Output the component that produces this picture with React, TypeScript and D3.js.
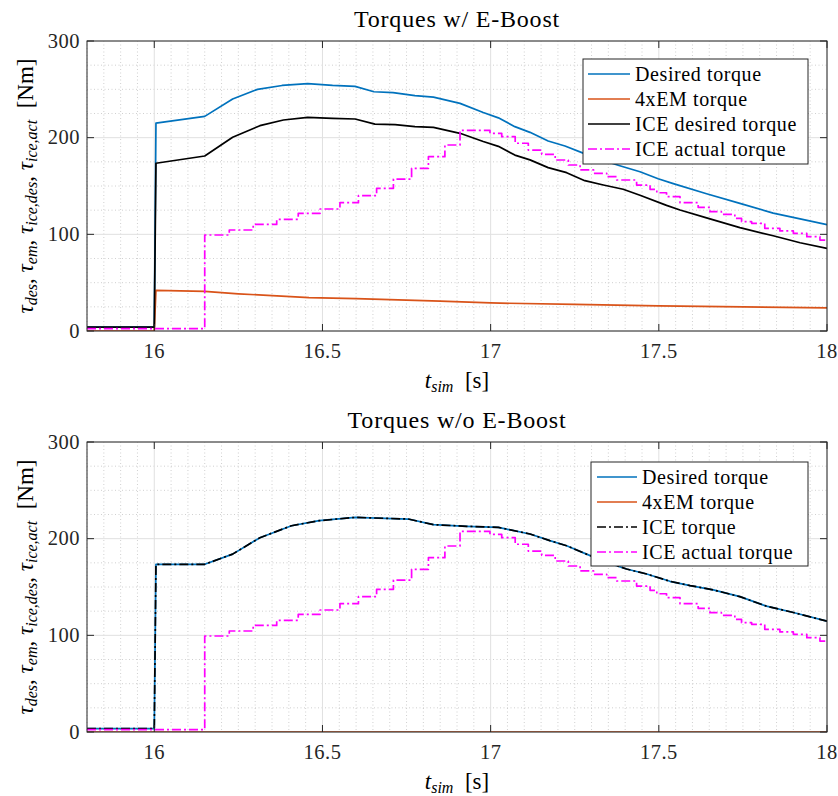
import React from "react";
import * as d3 from "d3";

// ---------- data ----------
const X_TICKS = [16, 16.5, 17, 17.5, 18];
const Y_TICKS = [0, 100, 200, 300];
const X_TICK_LABELS = ["16", "16.5", "17", "17.5", "18"];
const Y_TICK_LABELS = ["0", "100", "200", "300"];

// Top panel (w/ E-Boost)
const topDesired: [number, number][] = [
  [15.8, 4], [16.0, 4], [16.005, 215], [16.15, 222], [16.233, 240], [16.307, 250], [16.38, 254],
  [16.456, 256], [16.53, 254], [16.597, 253], [16.653, 247.5], [16.71, 246.5], [16.775, 243.5],
  [16.83, 242], [16.909, 235.5], [16.978, 226], [17.023, 220.5], [17.072, 211.4], [17.117, 205.5],
  [17.171, 196.5], [17.221, 191.4], [17.275, 184], [17.33, 177], [17.384, 171], [17.444, 164.8],
  [17.498, 157.5], [17.543, 152.5], [17.642, 142], [17.741, 132], [17.84, 122], [17.92, 116], [18.0, 110],
];
const topEM: [number, number][] = [
  [15.8, 0], [16.0, 0], [16.005, 42], [16.15, 41], [16.25, 38.5], [16.46, 34.5], [16.6, 33.5],
  [16.85, 31], [17.0, 29], [17.25, 27.5], [17.5, 26], [17.75, 25], [18.0, 24],
];
const topIceDesired: [number, number][] = [
  [15.8, 4], [16.0, 4], [16.005, 173.5], [16.15, 181], [16.233, 200.4], [16.314, 212.4], [16.384, 218.3],
  [16.456, 221], [16.53, 220], [16.597, 219.3], [16.656, 214], [16.716, 213.5], [16.775, 211.5],
  [16.83, 210.7], [16.909, 204.5], [16.978, 196], [17.023, 191], [17.072, 182], [17.117, 177],
  [17.171, 169], [17.226, 163.8], [17.28, 155.5], [17.335, 151], [17.394, 146.6], [17.444, 140.5],
  [17.523, 130], [17.563, 125.2], [17.642, 117], [17.741, 107], [17.84, 98.5], [17.92, 91.3], [18.0, 85.5],
];
const iceActual: [number, number][] = [
  [15.8, 2.5], [16.15, 99.3], [16.223, 104.5], [16.294, 110.3], [16.364, 115.5], [16.428, 121.7],
  [16.493, 126.2], [16.552, 132.7], [16.607, 140], [16.661, 147.6], [16.711, 157.2], [16.765, 168.3],
  [16.815, 180.3], [16.864, 192.4], [16.909, 207.5], [16.998, 204.5], [17.033, 201], [17.073, 194.2],
  [17.112, 187.2], [17.152, 182.8], [17.192, 176.9], [17.231, 171.7], [17.266, 166.6], [17.306, 163.1],
  [17.345, 159.6], [17.375, 156.2], [17.434, 151], [17.474, 146.6], [17.494, 143], [17.523, 139],
  [17.563, 132.8], [17.617, 127.9], [17.652, 123.4], [17.686, 120.7], [17.726, 116.6], [17.746, 113.1],
  [17.776, 111.4], [17.815, 106.2], [17.86, 103.5], [17.9, 101], [17.94, 97.6], [17.979, 94.1], [18.0, 93.1],
];

// Bottom panel (w/o E-Boost)
const botDesired: [number, number][] = [
  [15.8, 3.5], [16.0, 3.5], [16.005, 173.5], [16.15, 173.5], [16.233, 184], [16.314, 201], [16.408, 213.4],
  [16.49, 218.6], [16.597, 222], [16.755, 220.3], [16.83, 214.5], [16.929, 212.8], [17.023, 211.7],
  [17.117, 204.8], [17.176, 198], [17.226, 192.7], [17.285, 184], [17.35, 175], [17.404, 168.6],
  [17.464, 163.4], [17.533, 155.9], [17.593, 151.5], [17.662, 147], [17.741, 140], [17.82, 130.2],
  [17.9, 123.6], [18.0, 114.6],
];
const botEM: [number, number][] = [[15.8, 0], [16.0, 0], [18.0, 0]];
const botIce: [number, number][] = botDesired;
const botIceActual: [number, number][] = iceActual;

const COLORS = { blue: "#0072BD", orange: "#D95319", black: "#000000", magenta: "#FF00FF" };
const DASHDOT = "9,3,2,3";
const FONT = "'Liberation Serif', 'Times New Roman', serif";

// ---------- layout ----------
const W = 838, H = 796;
const PL = 87, PR = 827, PH = 290;

type Series = { name: string; data: [number, number][]; color: string; dash?: string; step?: boolean };

const panels = [
  {
    top: 41,
    title: "Torques w/ E-Boost",
    series: [
      { name: "Desired torque", data: topDesired, color: COLORS.blue },
      { name: "4xEM torque", data: topEM, color: COLORS.orange },
      { name: "ICE desired torque", data: topIceDesired, color: COLORS.black },
      { name: "ICE actual torque", data: iceActual, color: COLORS.magenta, dash: DASHDOT, step: true },
    ] as Series[],
    legend: { x: 583, y: 59, w: 225, h: 105, lineX0: 588, lineX1: 630, textX: 635 },
  },
  {
    top: 442,
    title: "Torques w/o E-Boost",
    series: [
      { name: "Desired torque", data: botDesired, color: COLORS.blue },
      { name: "4xEM torque", data: botEM, color: COLORS.orange },
      { name: "ICE torque", data: botIce, color: COLORS.black, dash: DASHDOT },
      { name: "ICE actual torque", data: botIceActual, color: COLORS.magenta, dash: DASHDOT, step: true },
    ] as Series[],
    legend: { x: 591, y: 462, w: 217, h: 104, lineX0: 597, lineX1: 637, textX: 642 },
  },
];

const minorX: number[] = d3.range(0, 45).map((i) => 15.8 + i * 0.05).filter((v) => !X_TICKS.some((t) => Math.abs(t - v) < 1e-6));
const minorY: number[] = [25, 50, 75, 125, 150, 175, 225, 250, 275];

function Panel({ p, idx }: { p: (typeof panels)[number]; idx: number }) {
  const x = d3.scaleLinear().domain([15.8, 18]).range([PL, PR]);
  const y = d3.scaleLinear().domain([0, 300]).range([p.top + PH, p.top]);
  const lineGen = d3.line<[number, number]>().x((d) => x(d[0])).y((d) => y(d[1]));
  const stepGen = d3.line<[number, number]>().x((d) => x(d[0])).y((d) => y(d[1])).curve(d3.curveStepAfter);
  const bottom = p.top + PH;
  const clipId = `clip${idx}`;
  const tickLen = 7;
  return (
    <g>
      <defs>
        <clipPath id={clipId}>
          <rect x={PL} y={p.top} width={PR - PL} height={PH} />
        </clipPath>
      </defs>
      <rect x={PL} y={p.top} width={PR - PL} height={PH} fill="#fff" />
      {/* minor grid */}
      {minorX.map((v, i) => (
        <line key={"mx" + i} x1={x(v)} x2={x(v)} y1={p.top} y2={bottom} stroke="#c4c4c4" strokeWidth={0.8} strokeDasharray="1,2.5" />
      ))}
      {minorY.map((v, i) => (
        <line key={"my" + i} x1={PL} x2={PR} y1={y(v)} y2={y(v)} stroke="#c4c4c4" strokeWidth={0.8} strokeDasharray="1,2.5" />
      ))}
      {/* major grid */}
      {X_TICKS.map((v, i) => (
        <line key={"gx" + i} x1={x(v)} x2={x(v)} y1={p.top} y2={bottom} stroke="#e0e0e0" strokeWidth={1} />
      ))}
      {Y_TICKS.map((v, i) => (
        <line key={"gy" + i} x1={PL} x2={PR} y1={y(v)} y2={y(v)} stroke="#e0e0e0" strokeWidth={1} />
      ))}
      {/* series */}
      <g clipPath={`url(#${clipId})`}>
        {p.series.map((s, i) => (
          <path
            key={"s" + i}
            d={(s.step ? stepGen : lineGen)(s.data) || ""}
            fill="none"
            stroke={s.color}
            strokeWidth={1.7}
            strokeDasharray={s.dash}
            strokeLinejoin="round"
          />
        ))}
      </g>
      {/* frame */}
      <rect x={PL} y={p.top} width={PR - PL} height={PH} fill="none" stroke="#262626" strokeWidth={1} />
      {/* ticks */}
      {X_TICKS.map((v, i) => (
        <g key={"tx" + i}>
          <line x1={x(v)} x2={x(v)} y1={bottom} y2={bottom - tickLen} stroke="#262626" />
          <line x1={x(v)} x2={x(v)} y1={p.top} y2={p.top + tickLen} stroke="#262626" />
          <text x={x(v)} y={bottom + 27} textAnchor="middle" fontFamily={FONT} fontSize={20.5} letterSpacing={0.5} fill="#262626">
            {X_TICK_LABELS[i]}
          </text>
        </g>
      ))}
      {Y_TICKS.map((v, i) => (
        <g key={"ty" + i}>
          <line x1={PL} x2={PL + tickLen} y1={y(v)} y2={y(v)} stroke="#262626" />
          <line x1={PR} x2={PR - tickLen} y1={y(v)} y2={y(v)} stroke="#262626" />
          <text x={80} y={y(v) + 6.8} textAnchor="end" fontFamily={FONT} fontSize={20.5} letterSpacing={0.5} fill="#262626">
            {Y_TICK_LABELS[i]}
          </text>
        </g>
      ))}
      {/* title */}
      <text x={(PL + PR) / 2} y={p.top - 14} textAnchor="middle" fontFamily={FONT} fontSize={24} letterSpacing={0.8} fill="#000">
        {p.title}
      </text>
      {/* x label */}
      <text x={(PL + PR) / 2} y={bottom + 57} textAnchor="middle" fontFamily={FONT} fontSize={23} fill="#000">
        <tspan fontStyle="italic">t</tspan>
        <tspan fontStyle="italic" fontSize={16} dy={4}>sim</tspan>
        <tspan dy={-4}>{"\u2002[s]"}</tspan>
      </text>
      {/* y label */}
      <text transform={`translate(33,${p.top + PH / 2}) rotate(-90)`} textAnchor="middle" fontFamily={FONT} fontSize={23} fill="#000">
        <tspan fontStyle="italic">τ</tspan>
        <tspan fontStyle="italic" fontSize={16} dy={4}>des</tspan>
        <tspan dy={-4}>, </tspan>
        <tspan fontStyle="italic">τ</tspan>
        <tspan fontStyle="italic" fontSize={16} dy={4}>em</tspan>
        <tspan dy={-4}>, </tspan>
        <tspan fontStyle="italic">τ</tspan>
        <tspan fontStyle="italic" fontSize={16} dy={4}>ice,des</tspan>
        <tspan dy={-4}>, </tspan>
        <tspan fontStyle="italic">τ</tspan>
        <tspan fontStyle="italic" fontSize={16} dy={4}>ice,act</tspan>
        <tspan dy={-4}>{"\u2002[Nm]"}</tspan>
      </text>
      {/* legend */}
      <g>
        <rect x={p.legend.x} y={p.legend.y} width={p.legend.w} height={p.legend.h} fill="#fff" stroke="#262626" strokeWidth={1} />
        {p.series.map((s, i) => {
          const cy = p.legend.y + 15 + i * 25;
          return (
            <g key={"lg" + i}>
              <line x1={p.legend.lineX0} x2={p.legend.lineX1} y1={cy} y2={cy} stroke={s.color} strokeWidth={1.7} strokeDasharray={s.dash} />
              <text x={p.legend.textX} y={cy + 6.5} fontFamily={FONT} fontSize={20} letterSpacing={0.6} fill="#000">
                {s.name}
              </text>
            </g>
          );
        })}
      </g>
    </g>
  );
}

export default function App() {
  return (
    <svg width={W} height={H} style={{ display: "block", position: "absolute", left: 0, top: 0 }}>
      <rect width={W} height={H} fill="#fff" />
      {panels.map((p, i) => (
        <Panel key={i} p={p} idx={i} />
      ))}
    </svg>
  );
}
